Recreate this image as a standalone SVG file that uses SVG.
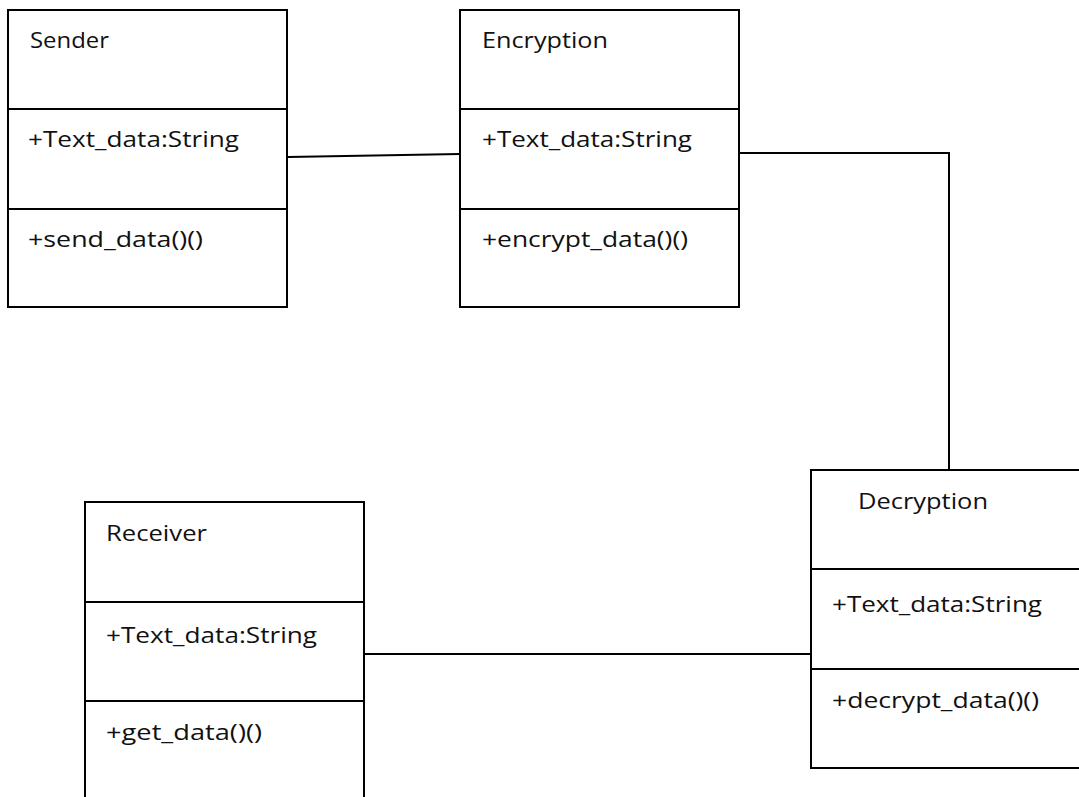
<svg xmlns="http://www.w3.org/2000/svg" width="1079" height="797" viewBox="0 0 1079 797">
<style>
.box{fill:#fff;stroke:#000;stroke-width:2}
.div{stroke:#000;stroke-width:2}
.conn{fill:none;stroke:#000;stroke-width:2}
text{font-family:"Open Sans","Liberation Sans",sans-serif;font-size:21px;fill:#111}
</style>
<rect width="1079" height="797" fill="#fff"/>
<g id="connectors">
<line class="conn" x1="288" y1="157" x2="460" y2="154"/>
<polyline class="conn" points="739,153 949,153 949,470"/>
<line class="conn" x1="364" y1="654" x2="811" y2="654"/>
</g>
<g id="sender">
<rect class="box" x="8" y="10" width="279" height="297"/>
<line class="div" x1="8" y1="109" x2="287" y2="109"/>
<line class="div" x1="8" y1="209" x2="287" y2="209"/>
<text x="30" y="48" textLength="79" lengthAdjust="spacingAndGlyphs">Sender</text>
<text x="28" y="147" textLength="211" lengthAdjust="spacingAndGlyphs">+Text_data:String</text>
<text x="28" y="247" textLength="175" lengthAdjust="spacingAndGlyphs">+send_data()()</text>
</g>
<g id="encryption">
<rect class="box" x="460" y="10" width="279" height="297"/>
<line class="div" x1="460" y1="109" x2="739" y2="109"/>
<line class="div" x1="460" y1="209" x2="739" y2="209"/>
<text x="482" y="48" textLength="126" lengthAdjust="spacingAndGlyphs">Encryption</text>
<text x="482" y="147" textLength="210" lengthAdjust="spacingAndGlyphs">+Text_data:String</text>
<text x="482" y="247" textLength="206" lengthAdjust="spacingAndGlyphs">+encrypt_data()()</text>
</g>
<g id="decryption">
<rect class="box" x="811" y="470" width="300" height="298"/>
<line class="div" x1="811" y1="569" x2="1111" y2="569"/>
<line class="div" x1="811" y1="669" x2="1111" y2="669"/>
<text x="858" y="509" textLength="130" lengthAdjust="spacingAndGlyphs">Decryption</text>
<text x="832" y="612" textLength="210" lengthAdjust="spacingAndGlyphs">+Text_data:String</text>
<text x="832" y="708" textLength="207" lengthAdjust="spacingAndGlyphs">+decrypt_data()()</text>
</g>
<g id="receiver">
<rect class="box" x="85" y="502" width="279" height="320"/>
<line class="div" x1="85" y1="602" x2="364" y2="602"/>
<line class="div" x1="85" y1="701" x2="364" y2="701"/>
<text x="106" y="541" textLength="101" lengthAdjust="spacingAndGlyphs">Receiver</text>
<text x="106" y="643" textLength="211" lengthAdjust="spacingAndGlyphs">+Text_data:String</text>
<text x="106" y="740" textLength="156" lengthAdjust="spacingAndGlyphs">+get_data()()</text>
</g>
</svg>
